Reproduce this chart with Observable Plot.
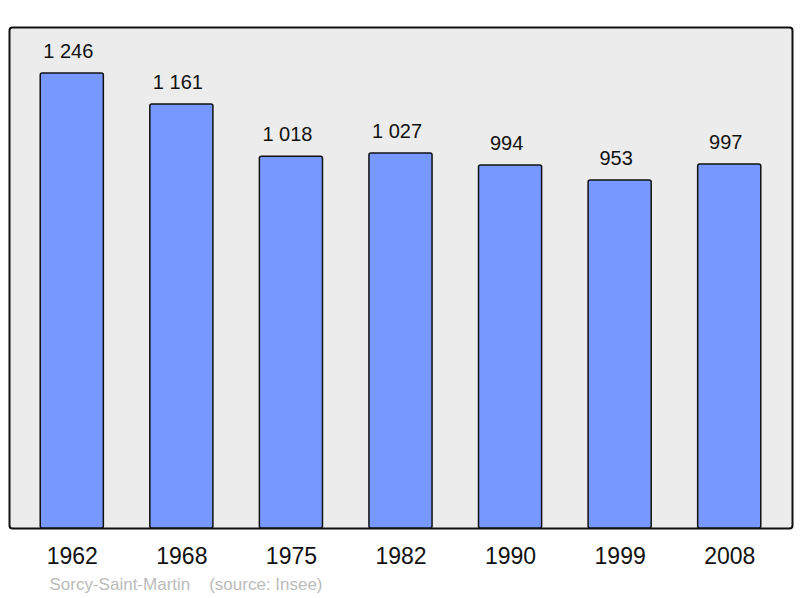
<!DOCTYPE html>
<html>
<head>
<meta charset="utf-8">
<script src="https://cdn.jsdelivr.net/npm/d3@7"></script>
<script src="https://cdn.jsdelivr.net/npm/@observablehq/plot@0.6"></script>
<style>
  html, body { margin: 0; padding: 0; background: #fff; }
  #chart { position: relative; width: 800px; height: 598px; }
</style>
</head>
<body>
<div id="chart"></div>
<script>
const years = ["1962", "1968", "1975", "1982", "1990", "1999", "2008"];
const population = [1246, 1161, 1018, 1027, 994, 953, 997];
const captionText = "Sorcy-Saint-Martin\u00a0\u00a0\u00a0\u00a0(source: Insee)";

const fmt = v => d3.format(",")(v).replace(/,/g, "\u00a0");
const data = years.map((y, i) => ({year: y, value: population[i], label: fmt(population[i])}));

const font = "'Liberation Sans', Arial, sans-serif";

const plot = Plot.plot({
  width: 800,
  height: 598,
  marginLeft: 9,
  marginRight: 8,
  marginTop: 27,
  marginBottom: 70,
  style: {fontFamily: font, background: "#fff", overflow: "visible"},
  x: {domain: years, paddingInner: 0.424, paddingOuter: 0.285, round: false, label: null},
  y: {domain: [0, 1372], axis: null},
  marks: [
    Plot.frame({fill: "#ececec", stroke: "#111", strokeWidth: 2, rx: 3}),
    Plot.barY(data, {x: "year", y: "value", fill: "#7799ff", stroke: "#111", strokeWidth: 1.5, rx: 2}),
    Plot.text(data, {x: "year", y: "value", text: "label", dx: -4, dy: -22, fontSize: 20, fill: "#111", lineAnchor: "middle"}),
    Plot.axisX({tickSize: 0, tickPadding: 19, fontSize: 23, color: "#111", label: null}),
    Plot.text([captionText], {frameAnchor: "bottom-left", dx: 40, dy: 56, text: d => d, fontSize: 17, fill: "#bbbbbb", textAnchor: "start", lineAnchor: "middle"})
  ]
});
document.getElementById("chart").appendChild(plot);
</script>
</body>
</html>
